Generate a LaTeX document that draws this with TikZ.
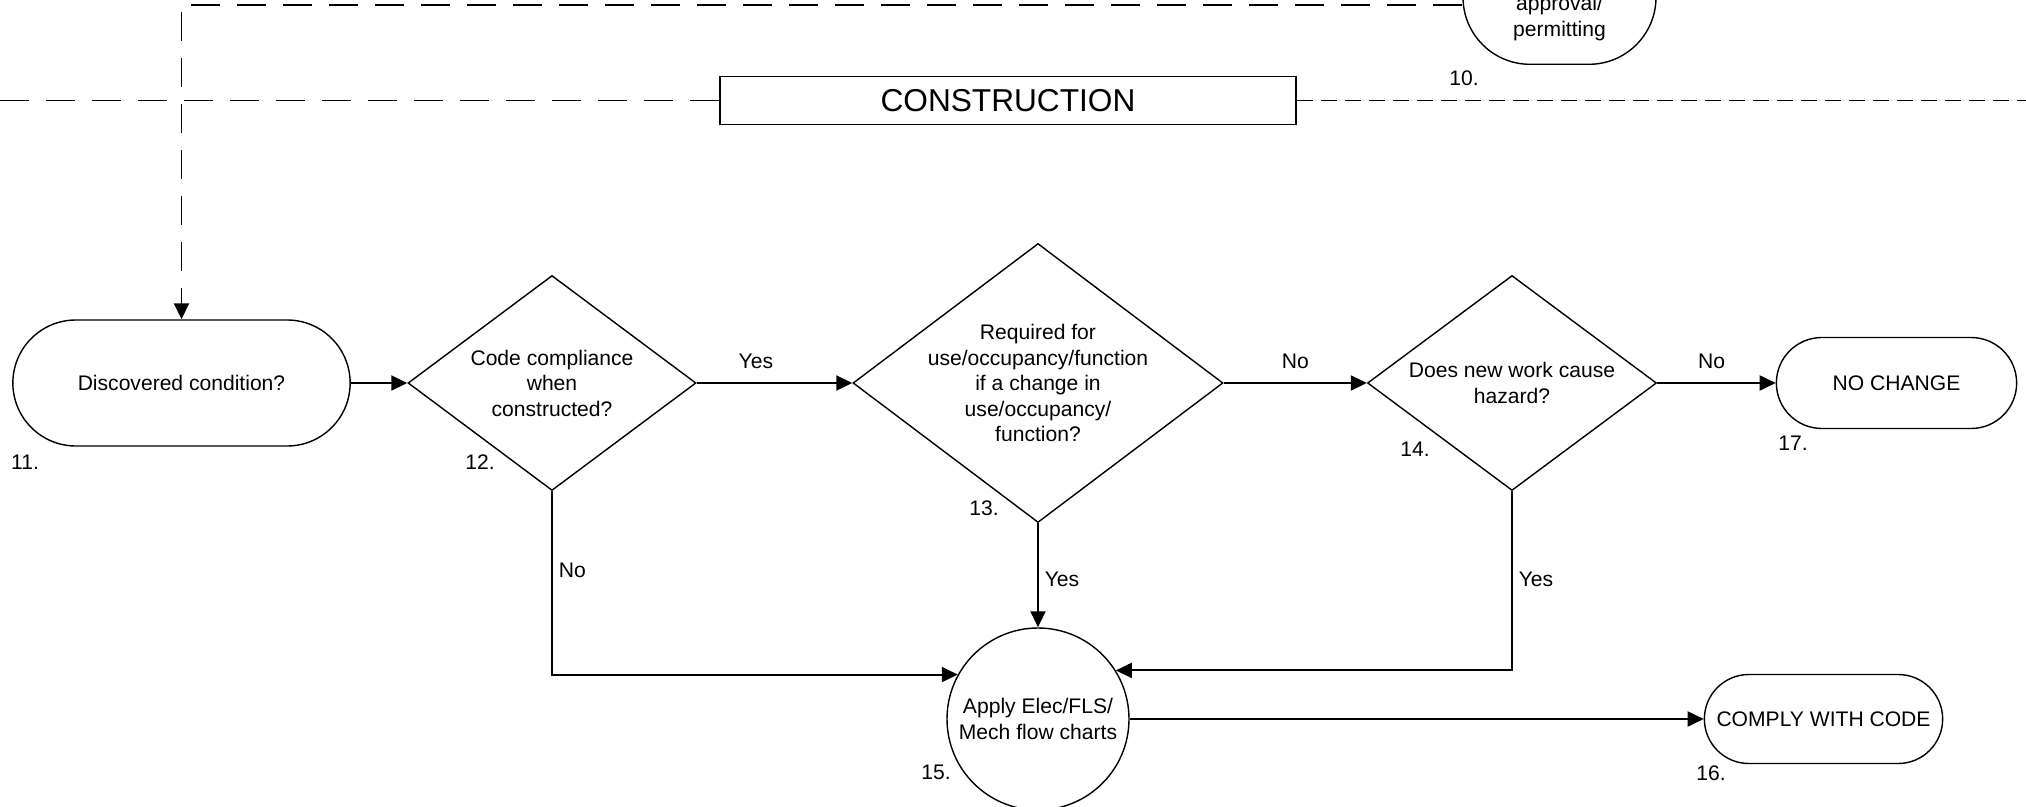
\documentclass[tikz,border=0pt]{standalone}
\usepackage{fontspec}
\setmainfont{Liberation Sans}
\usetikzlibrary{arrows.meta, shapes.geometric, shapes.misc}
\tikzset{>={Triangle[width=3mm,length=3.2mm]}}

\begin{document}
\begin{tikzpicture}[
    font = \fontsize{12}{14.5}\selectfont,
    every node/.style = {align=center},
    termbox/.style = {draw, rounded rectangle, line width=0.8pt},
    decision/.style = {draw, diamond, line width=0.8pt, inner sep=0pt},
    chartbox/.style = {draw, circle, line width=0.8pt, minimum size=3.64cm, inner sep=0pt},
    numlbl/.style = {font=\fontsize{12}{14}\selectfont},
    flow/.style = {->, line width=1.1pt},
    longdash/.style = {line width=1.1pt, dash pattern=on 0.58cm off 0.34cm},
    shortdash/.style = {line width=1.1pt, dash pattern=on 0.32cm off 0.16cm}
  ]
  \useasboundingbox (0,0) rectangle (40.52,-16.14);
  \clip (0,0) rectangle (40.52,-16.14);

  % phase line
  \node[draw, line width=0.8pt, minimum width=11.52cm, minimum height=0.96cm,
    font=\fontsize{18}{20}\selectfont] (cons) at (20.16,-2.01) {CONSTRUCTION};
  \coordinate (consL) at (0,-2.01);
  \coordinate (consR) at (40.52,-2.01);
  \draw[longdash] (consL) -- (cons.west);
  \draw[shortdash] (cons.east) -- (consR);

  % nodes
  \node[draw, line width=0.8pt, rounded corners=1.34cm, minimum width=3.86cm,
    minimum height=3.4cm, anchor=south] (n10) at (31.19,-1.30) {};
  \node (t10) at (31.19,-0.36) {approval/\\permitting};

  \node[termbox, minimum width=6.98cm, minimum height=2.52cm] (n11) at (3.63,-7.66)
    {Discovered condition?};
  \node[decision, minimum width=5.76cm, minimum height=4.30cm,
    label={[align=center]center:Code compliance\\when\\constructed?}] (n12) at (11.04,-7.66) {};
  \node[decision, minimum width=7.40cm, minimum height=5.58cm,
    label={[align=center]center:Required for\\use/occupancy/function\\if a change in\\use/occupancy/\\function?}]
    (n13) at (20.76,-7.66) {};
  \node[decision, minimum width=5.78cm, minimum height=4.30cm,
    label={[align=center]center:Does new work cause\\hazard?}] (n14) at (30.24,-7.66) {};
  \node[termbox, minimum width=5.04cm, minimum height=1.82cm] (n17) at (37.93,-7.66) {NO CHANGE};
  \node[chartbox] (n15) at (20.76,-14.38) {Apply Elec/FLS/\\Mech flow charts};
  \node[termbox, minimum width=5.00cm, minimum height=1.78cm] (n16) at (36.47,-14.38) {COMPLY WITH CODE};

  % step numbers
  \foreach \n/\x/\y in {10/29.28/-1.56, 11/0.50/-9.24, 12/9.60/-9.24, 13/19.68/-10.16,
      14/28.30/-8.98, 15/18.72/-15.44, 16/34.22/-15.46, 17/35.86/-8.86}
    \node[numlbl] (l\n) at (\x,\y) {\n.};

  % connectors
  \coordinate (top) at (0,-0.10);
  \draw[flow, longdash] (n10.west |- top) -| (n11.north);
  \draw[flow] (n11) -- (n12);
  \draw[flow] (n12) -- node[above=4pt, pos=0.38] (yes12) {Yes} (n13);
  \draw[flow] (n13) -- node[above=4pt] (no13) {No} (n14);
  \draw[flow] (n14) -- node[above=4pt, pos=0.46] (no14) {No} (n17);
  \draw[flow] (n12.south) |- node[right, pos=0.215] (no12) {No} (n15.151);
  \draw[flow] (n13.south) -- node[right, pos=0.54] (yes13) {Yes} (n15.north);
  \draw[flow] (n14.south) |- node[right, pos=0.247] (yes14) {Yes} (n15.32);
  \draw[flow] (n15) -- (n16);
\end{tikzpicture}
\end{document}
